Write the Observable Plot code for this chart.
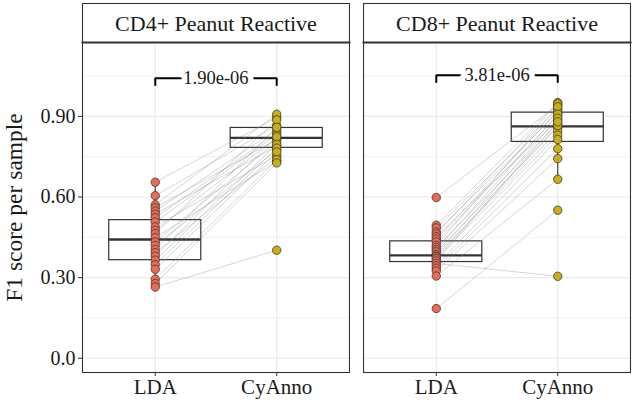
<!DOCTYPE html>
<html>
<head>
<meta charset="utf-8">
<script src="https://cdn.jsdelivr.net/npm/d3@7"></script>
<script src="https://cdn.jsdelivr.net/npm/@observablehq/plot@0.6"></script>
<style>
  html, body { margin: 0; padding: 0; background: white; }
</style>
</head>
<body>
<div id="chart"></div>
<script>
// ---- data ----
const panels = ["CD4+ Peanut Reactive", "CD8+ Peanut Reactive"];
const methods = ["LDA", "CyAnno"];

// paired F1 scores per sample (same index = same sample)
const cd4LDA    = [0.655,0.605,0.571,0.560,0.548,0.536,0.523,0.507,0.489,0.476,0.464,0.449,0.433,0.420,0.405,0.393,0.380,0.365,0.348,0.331,0.294,0.278,0.265];
const cd4CyAnno = [0.896,0.867,0.908,0.814,0.852,0.790,0.840,0.832,0.755,0.820,0.887,0.733,0.806,0.775,0.859,0.748,0.824,0.796,0.782,0.768,0.739,0.727,0.402];
const cd8LDA    = [0.598,0.495,0.485,0.470,0.462,0.452,0.443,0.433,0.420,0.412,0.404,0.396,0.386,0.380,0.377,0.370,0.362,0.353,0.344,0.335,0.325,0.306,0.185];
const cd8CyAnno = [0.942,0.952,0.929,0.914,0.947,0.886,0.920,0.902,0.936,0.873,0.908,0.859,0.893,0.845,0.866,0.830,0.880,0.305,0.814,0.780,0.743,0.666,0.551];

// box summaries (panel, method, q1, median, q3, whisker low, whisker high)
const boxPanel  = [panels[0], panels[0], panels[1], panels[1]];
const boxMethod = ["LDA", "CyAnno", "LDA", "CyAnno"];
const boxQ1     = [0.365, 0.783, 0.358, 0.805];
const boxMed    = [0.442, 0.820, 0.383, 0.863];
const boxQ3     = [0.514, 0.857, 0.435, 0.914];
const boxLo     = [0.265, 0.727, 0.306, 0.666];
const boxHi     = [0.655, 0.908, 0.495, 0.952];

// significance brackets
const pLabels   = ["1.90e-06", "3.81e-06"];
const bracketY  = [1.042, 1.053];
const bracketLo = [1.012, 1.023];

// axes
const yTicks = [0, 0.3, 0.6, 0.9];
const yTickLabels = ["0.0", "0.30", "0.60", "0.90"];
const yMinor = [0.15, 0.45, 0.75, 1.05];
const yTitle = "F1 score per sample";
const colors = ["#EE6A50", "#C9AE14"];

// ---- build tables ----
const series = [[cd4LDA, cd4CyAnno], [cd8LDA, cd8CyAnno]];
const pairs = [];
const points = [];
series.forEach(([a, b], p) => {
  a.forEach((v, i) => {
    pairs.push({panel: panels[p], m1: "LDA", m2: "CyAnno", lda: v, cy: b[i]});
    points.push({panel: panels[p], method: "LDA", value: v});
    points.push({panel: panels[p], method: "CyAnno", value: b[i]});
  });
});
const boxes = boxPanel.map((p, i) => ({panel: p, method: boxMethod[i], q1: boxQ1[i], med: boxMed[i], q3: boxQ3[i], lo: boxLo[i], hi: boxHi[i]}));
const brackets = panels.map((p, i) => ({panel: p, a: "LDA", b: "CyAnno", y: bracketY[i], lo: bracketLo[i], label: pLabels[i]}));
const bracketEnds = brackets.flatMap(d => [{panel: d.panel, x: d.a, y1: d.lo, y2: d.y}, {panel: d.panel, x: d.b, y1: d.lo, y2: d.y}]);

const ink = "#1a1a1a";
const line = "#333333";
const grid = "#EBEBEB";

const chart = Plot.plot({
  width: 633,
  height: 409,
  marginLeft: 82,
  marginRight: 3,
  marginTop: 42,
  marginBottom: 37,
  style: {fontFamily: "'Liberation Serif', 'Times New Roman', serif", fontSize: "20px", color: ink, background: "white"},
  fx: {domain: panels, paddingInner: 0.05, paddingOuter: 0, round: false, axis: null, label: null},
  x: {type: "band", domain: methods, paddingInner: 0.242, paddingOuter: 0.22, round: false, axis: null, label: null},
  y: {domain: [-0.053, 1.175], axis: null, label: null},
  color: {domain: methods, range: colors},
  marks: [
    // grid
    Plot.ruleY(yMinor, {stroke: grid, strokeWidth: 0.6}),
    Plot.ruleY(yTicks, {stroke: grid, strokeWidth: 1.2}),
    Plot.ruleX(methods, {x: d => d, stroke: grid, strokeWidth: 1.2}),
    // boxplots
    Plot.ruleX(boxes, {fx: "panel", x: "method", y1: "lo", y2: "hi", stroke: line, strokeWidth: 1.1}),
    Plot.barY(boxes, {fx: "panel", x: "method", y1: "q1", y2: "q3", fill: "white", stroke: line, strokeWidth: 1.2}),
    Plot.tickY(boxes, {fx: "panel", x: "method", y: "med", stroke: line, strokeWidth: 2.4}),
    // paired lines
    Plot.link(pairs, {fx: "panel", x1: "m1", x2: "m2", y1: "lda", y2: "cy", stroke: "#8c8c8c", strokeOpacity: 0.4, strokeWidth: 0.9}),
    // points
    Plot.dot(points, {fx: "panel", x: "method", y: "value", r: 4.2, fill: "method", stroke: "#3a3a3a", strokeWidth: 0.8}),
    // significance brackets
    Plot.link(brackets, {fx: "panel", x1: "a", x2: "b", y1: "y", y2: "y", stroke: "black", strokeWidth: 2}),
    Plot.ruleX(bracketEnds, {fx: "panel", x: "x", y1: "y1", y2: "y2", stroke: "black", strokeWidth: 2}),
    Plot.text(brackets, {fx: "panel", y: "y", text: "label", frameAnchor: "middle", fontSize: 18.5, fill: ink, stroke: "white", strokeWidth: 11}),
    // panel frame + strip
    Plot.frame({stroke: line, strokeWidth: 1.1, insetTop: -39}),
    Plot.frame({anchor: "top", stroke: line, strokeWidth: 2}),
    Plot.text(panels, {fx: d => d, text: d => d, frameAnchor: "top", lineAnchor: "middle", dy: -19, fontSize: 22, fill: ink}),
    // axes
    Plot.axisY(yTicks, {tickFormat: d => yTickLabels[yTicks.indexOf(d)], tickSize: 4, tickPadding: 3, fontSize: 20, stroke: line, label: null}),
    Plot.axisX({tickSize: 4, tickPadding: 3, fontSize: 21, stroke: line, label: null}),
    Plot.text([yTitle], {fx: () => panels[0], text: d => d, frameAnchor: "left", textAnchor: "middle", lineAnchor: "middle", rotate: -90, dx: -68, fontSize: 23.5, fill: ink})
  ]
});
document.getElementById("chart").appendChild(chart);
</script>
</body>
</html>
